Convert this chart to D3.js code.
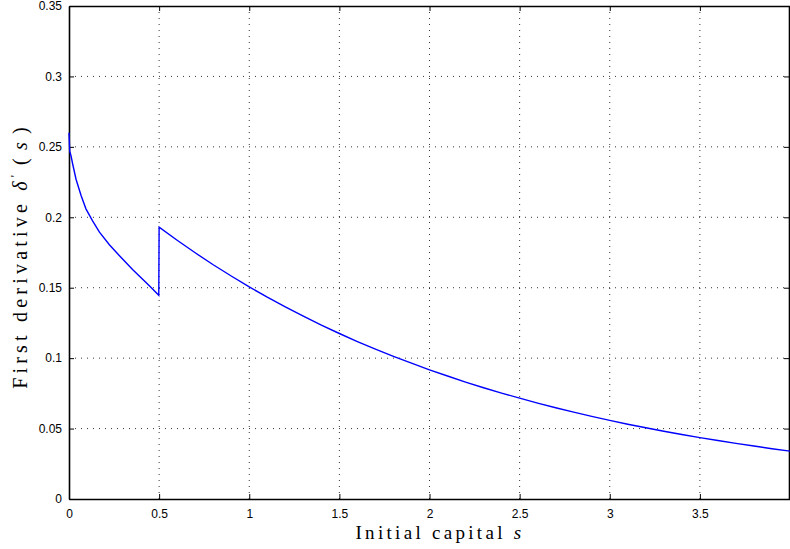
<!DOCTYPE html>
<html lang="en">
<head>
  <meta charset="UTF-8">
  <title>First derivative</title>
  <script src="https://d3js.org/d3.v7.min.js"></script>
  <style>
    body { margin: 0; background: #fff; }
    svg { display: block; }
    .tick-label { font-family: "Liberation Sans", Arial, sans-serif; font-size: 12px; fill: #000; }
    .axis-title { font-family: "Liberation Serif", "DejaVu Serif", serif; font-size: 19px; letter-spacing: 3.3px; fill: #000; }
    .grid line { stroke: #000; stroke-width: 0.8; stroke-dasharray: 1,5; }
  </style>
</head>
<body>
  <svg id="chart" width="790" height="549"></svg>

  <script>
    // Tick values
    const xTicks = [0, 0.5, 1, 1.5, 2, 2.5, 3, 3.5];
    const yTicks = [0, 0.05, 0.1, 0.15, 0.2, 0.25, 0.3, 0.35];

    // Curve before the jump at s = 0.5
    const s1 = [0, 0.004, 0.011, 0.02, 0.039, 0.067, 0.094, 0.13, 0.169, 0.224, 0.28, 0.354, 0.41, 0.45, 0.498];
    const d1 = [0.26, 0.247, 0.2438, 0.238, 0.227, 0.2155, 0.206, 0.1977, 0.1894, 0.1805, 0.1727, 0.1628, 0.1558, 0.1508, 0.1446];

    // Curve after the jump
    const s2 = [0.5, 0.6, 0.7, 0.8, 0.9, 1.0, 1.1, 1.2, 1.3, 1.4, 1.5, 1.6, 1.7, 1.8, 1.9, 2.0,
                2.1, 2.2, 2.3, 2.4, 2.5, 2.6, 2.7, 2.8, 2.9, 3.0, 3.1, 3.2, 3.3, 3.4, 3.5,
                3.6, 3.7, 3.8, 3.9, 4.0];
    const d2 = [0.193, 0.1837, 0.1748, 0.1663, 0.1583, 0.1506, 0.1433, 0.1364, 0.1298, 0.1235, 0.1175,
                0.1118, 0.1064, 0.1013, 0.0964, 0.0917, 0.0873, 0.083, 0.079, 0.0752, 0.0716,
                0.0681, 0.0648, 0.0617, 0.0587, 0.0558, 0.0531, 0.0506, 0.0481, 0.0458, 0.0436,
                0.0415, 0.0395, 0.0376, 0.0357, 0.034];

    const svg = d3.select("#chart");
    const mLeft = 69, mRight = 790, mTop = 6, mBottom = 499;

    const x = d3.scaleLinear().domain([0, 4]).range([mLeft, mRight]);
    const y = d3.scaleLinear().domain([0, 0.35]).range([mBottom, mTop]);

    // dotted grid
    const grid = svg.append("g").attr("class", "grid");
    grid.selectAll(".gx")
      .data(xTicks.filter(d => d > 0))
      .join("line")
      .attr("class", "gx")
      .attr("x1", d => x(d)).attr("x2", d => x(d))
      .attr("y1", mTop).attr("y2", mBottom);
    grid.selectAll(".gy")
      .data(yTicks.filter(d => d > 0 && d < 0.35))
      .join("line")
      .attr("class", "gy")
      .attr("x1", mLeft).attr("x2", mRight)
      .attr("y1", d => y(d)).attr("y2", d => y(d));

    // axes, ticks inward like matlab
    const xAxis = svg.append("g").attr("transform", `translate(0,${mBottom})`)
      .call(d3.axisBottom(x).tickValues(xTicks).tickSizeInner(-5).tickSizeOuter(0).tickPadding(8)
        .tickFormat(d3.format("")));
    const xTop = svg.append("g").attr("transform", `translate(0,${mTop})`)
      .call(d3.axisTop(x).tickValues(xTicks).tickSizeInner(-5).tickSizeOuter(0).tickFormat(""));
    const yAxis = svg.append("g").attr("transform", `translate(${mLeft},0)`)
      .call(d3.axisLeft(y).tickValues(yTicks).tickSizeInner(-5).tickSizeOuter(0).tickPadding(6)
        .tickFormat(d3.format("")));
    const yRight = svg.append("g").attr("transform", `translate(${mRight - 1},0)`)
      .call(d3.axisRight(y).tickValues(yTicks).tickSizeInner(-5).tickSizeOuter(0).tickFormat(""));

    [xAxis, xTop, yAxis, yRight].forEach(g => {
      g.select(".domain").attr("stroke", "#000").attr("stroke-width", 1.6);
      g.selectAll(".tick line").attr("stroke", "#000").attr("stroke-width", 1);
      g.selectAll(".tick text").attr("class", "tick-label").attr("font-size", null).attr("font-family", null);
    });
    xAxis.selectAll(".tick text").attr("dy", "0.9em");
    yAxis.selectAll(".tick text").attr("dx", "-1px");

    // curve
    const line = d3.line().x(d => x(d[0])).y(d => y(d[1]));
    const seg = s1.map((s, i) => [s, d1[i]]).concat(s2.map((s, i) => [s, d2[i]]));
    svg.append("path")
      .datum(seg)
      .attr("d", line)
      .attr("fill", "none")
      .attr("stroke", "#0000ff")
      .attr("stroke-width", 1.4);

    // axis titles
    const xt = svg.append("text")
      .attr("class", "axis-title")
      .attr("x", 440)
      .attr("y", 539)
      .attr("text-anchor", "middle");
    xt.append("tspan").text("Initial capital ");
    xt.append("tspan").attr("font-style", "italic").text("s");

    const yt = svg.append("text")
      .attr("class", "axis-title")
      .attr("transform", `translate(27,256) rotate(-90)`)
      .attr("text-anchor", "middle")
      .style("font-size", "20px")
      .style("letter-spacing", "4.2px");
    yt.append("tspan").text("First derivative ");
    yt.append("tspan").attr("font-style", "italic").text("δ");
    yt.append("tspan").attr("dy", "-8").attr("font-size", "12px").text("'");
    yt.append("tspan").attr("dy", "8").attr("dx", "6").text("(");
    yt.append("tspan").attr("dx", "4").attr("font-style", "italic").text("s");
    yt.append("tspan").attr("dx", "4").text(")");
  </script>
</body>
</html>
